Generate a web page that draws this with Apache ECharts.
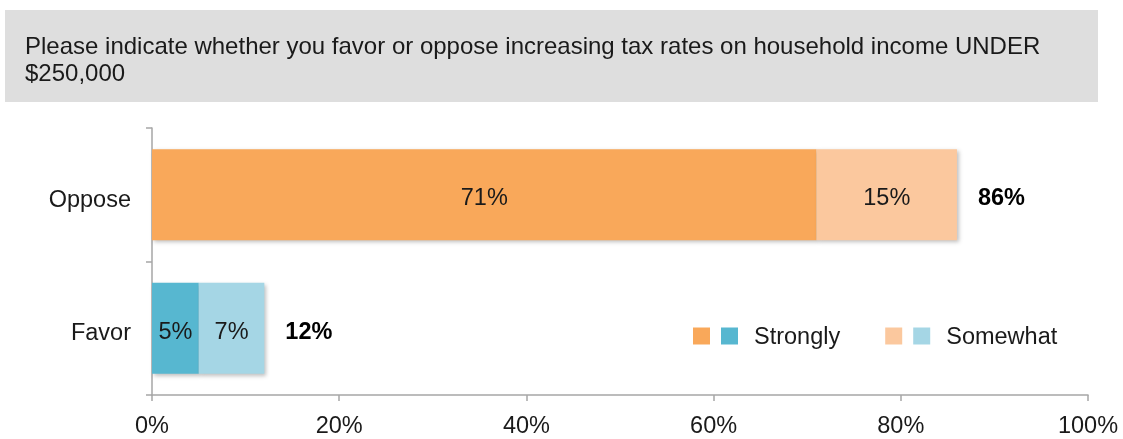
<!DOCTYPE html>
<html>
<head>
<meta charset="utf-8">
<script src="https://cdn.jsdelivr.net/npm/echarts@6/dist/echarts.min.js"></script>
<style>
  html, body { margin: 0; padding: 0; background: #fff; }
  #chart { width: 1123px; height: 439px; }
</style>
</head>
<body>
<div id="chart"></div>
<script>
// Data
const categories = ['Favor', 'Oppose'];
const strongly = [5, 71];
const somewhat = [7, 15];
const totals = [12, 86];
const legendNames = ['Strongly', 'Somewhat'];
const xTicks = [0, 20, 40, 60, 80, 100];

const titleText = 'Please indicate whether you favor or oppose increasing tax rates on household income UNDER\n$250,000';

const colors = {
  strongly: ['#57B7D0', '#F9A85A'],
  somewhat: ['#A5D6E5', '#FBC89E']
};

const chart = echarts.init(document.getElementById('chart'));

const barShadow = {
  shadowBlur: 4,
  shadowOffsetX: 2,
  shadowOffsetY: 2,
  shadowColor: 'rgba(0,0,0,0.25)'
};

const font = 'Liberation Sans, Arial, sans-serif';
const fs = 23.5;

const option = {
  backgroundColor: '#fff',
  animation: false,
  graphic: [{
    type: 'rect',
    left: 5,
    top: 10,
    shape: { width: 1093, height: 92 },
    style: { fill: '#DEDEDE' },
    z: 0
  }],
  title: {
    text: titleText,
    left: 25,
    top: 34,
    padding: 0,
    textStyle: {
      fontFamily: font,
      fontSize: 24,
      fontWeight: 'normal',
      color: '#1a1a1a',
      lineHeight: 27
    }
  },
  legend: {
    data: legendNames,
    left: 683,
    top: 319,
    icon: 'rect',
    itemWidth: 0,
    itemHeight: 0,
    itemGap: 40,
    selectedMode: false,
    formatter: name => name === 'Strongly'
      ? '{o| }{g| }{b| }{h| }{t|Strongly}'
      : '{o2| }{g| }{b2| }{h| }{t|Somewhat}',
    textStyle: {
      fontFamily: font,
      fontSize: fs,
      color: '#1a1a1a',
      rich: {
        o: { width: 17, height: 17, backgroundColor: '#F9A85A' },
        b: { width: 17, height: 17, backgroundColor: '#57B7D0' },
        o2: { width: 17, height: 17, backgroundColor: '#FBC89E' },
        b2: { width: 17, height: 17, backgroundColor: '#A5D6E5' },
        g: { width: 11 },
        h: { width: 16 },
        t: { fontFamily: font, fontSize: fs, color: '#1a1a1a', padding: [4, 0, 0, 0] }
      }
    }
  },
  grid: {
    left: 152,
    right: 35,
    top: 128,
    bottom: 41
  },
  xAxis: {
    type: 'value',
    min: 0,
    max: 100,
    interval: 20,
    axisLine: { show: true, lineStyle: { color: '#A6A6A6', width: 1.5 } },
    axisTick: { show: true, length: 6, lineStyle: { color: '#A6A6A6', width: 1.5 } },
    splitLine: { show: false },
    axisLabel: {
      fontFamily: font,
      fontSize: fs,
      color: '#1a1a1a',
      margin: 20,
      formatter: v => xTicks.includes(v) ? v + '%' : ''
    }
  },
  yAxis: {
    type: 'category',
    data: categories,
    axisLine: { show: true, lineStyle: { color: '#A6A6A6', width: 1.5 } },
    axisTick: { show: true, length: 6, lineStyle: { color: '#A6A6A6', width: 1.5 } },
    axisLabel: {
      margin: 21,
      formatter: v => '{c|' + v + '}',
      rich: {
        c: { fontFamily: font, fontSize: fs, color: '#1a1a1a', padding: [11, 0, 0, 0] }
      }
    }
  },
  series: [
    {
      name: 'Strongly',
      type: 'bar',
      stack: 'total',
      barWidth: '68%',
      data: strongly.map((v, i) => ({
        value: v,
        itemStyle: Object.assign({ color: colors.strongly[i] }, barShadow)
      })),
      label: {
        show: true,
        position: 'inside',
        offset: [0, 4],
        formatter: '{c}%',
        fontFamily: font,
        fontSize: fs,
        color: '#1a1a1a'
      }
    },
    {
      name: 'Somewhat',
      type: 'bar',
      stack: 'total',
      data: somewhat.map((v, i) => ({
        value: v,
        itemStyle: Object.assign({ color: colors.somewhat[i] }, barShadow)
      })),
      label: {
        show: true,
        position: 'inside',
        offset: [0, 4],
        formatter: '{c}%',
        fontFamily: font,
        fontSize: fs,
        color: '#1a1a1a'
      }
    },
    {
      name: 'Total',
      type: 'bar',
      stack: 'total',
      data: totals.map(() => 0),
      itemStyle: { color: 'transparent' },
      label: {
        show: true,
        position: 'right',
        distance: 21,
        offset: [0, 4],
        formatter: p => totals[p.dataIndex] + '%',
        fontFamily: font,
        fontSize: fs,
        fontWeight: 'bold',
        color: '#000'
      }
    }
  ]
};

chart.setOption(option);
window.addEventListener('resize', () => chart.resize());
</script>
</body>
</html>
